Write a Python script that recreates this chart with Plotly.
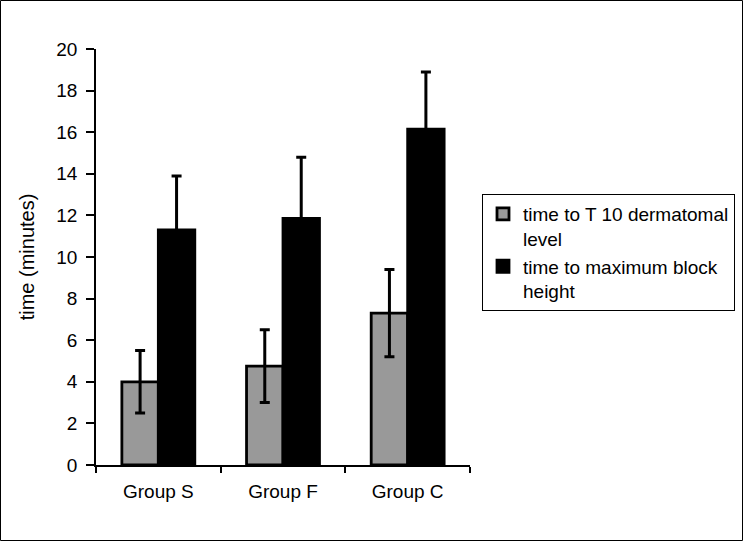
import plotly.graph_objects as go

categories = ["Group S", "Group F", "Group C"]
t10_values = [4.0, 4.75, 7.3]
t10_errors = [1.5, 1.75, 2.1]
max_values = [11.3, 11.85, 16.15]
max_errors = [2.6, 2.95, 2.75]
series_names = ["time to T 10 dermatomal<br>level", "time to maximum block<br>height"]
y_ticks = [0, 2, 4, 6, 8, 10, 12, 14, 16, 18, 20]

W, H = 743, 541
ML, MR, MT, MB = 96, 273, 49, 76
pw = W - ML - MR
ph = H - MT - MB

font = "Liberation Sans, Arial, sans-serif"

fig = go.Figure()
fig.add_trace(go.Bar(
    x=categories, y=t10_values, name=series_names[0],
    marker=dict(color="#999999", line=dict(color="black", width=2.8)),
    error_y=dict(type="data", array=t10_errors, visible=True, color="black", thickness=3, width=5),
))
fig.add_trace(go.Bar(
    x=categories, y=max_values, name=series_names[1],
    marker=dict(color="black", line=dict(color="black", width=2.8)),
    error_y=dict(type="data", array=max_errors, visible=True, color="black", thickness=3, width=5),
))

fig.update_layout(
    width=W, height=H,
    margin=dict(l=ML, r=MR, t=MT, b=MB, autoexpand=False),
    paper_bgcolor="white", plot_bgcolor="white",
    barmode="group", bargap=0.415, bargroupgap=0,
    font=dict(family=font, size=19, color="black"),
    showlegend=True,
    legend=dict(
        x=(482 - ML) / pw, y=1 - (194 - MT) / ph, xanchor="left", yanchor="top",
        bordercolor="black", borderwidth=1, bgcolor="white",
        font=dict(family=font, size=19, color="black"),
        valign="top", traceorder="normal", tracegroupgap=4,
    ),
    xaxis=dict(
        showline=True, linecolor="black", linewidth=1.5,
        ticks="outside", tickson="boundaries", ticklen=6, tickcolor="black", tickwidth=1.5,
        tickfont=dict(size=19), showgrid=False, ticklabelstandoff=8,
    ),
    yaxis=dict(
        range=[0, 20], tickvals=y_ticks, showline=True, linecolor="black", linewidth=1.5,
        ticks="outside", ticklen=8, tickcolor="black", tickwidth=1.5,
        tickfont=dict(size=19), showgrid=False, zeroline=False, ticklabelstandoff=5,
        title=dict(text="time (minutes)", font=dict(size=20), standoff=16),
    ),
    shapes=[dict(
        type="rect", xref="paper", yref="paper",
        x0=-(ML - 0.5) / pw, x1=(W - ML - 0.5) / pw,
        y0=-(MB - 0.5) / ph, y1=1 + (MT - 0.5) / ph,
        line=dict(color="black", width=1), fillcolor="rgba(0,0,0,0)", layer="above",
    )],
)

fig.write_html("out.html", config={"displayModeBar": False},
               post_script="document.body.style.margin='0px';")
